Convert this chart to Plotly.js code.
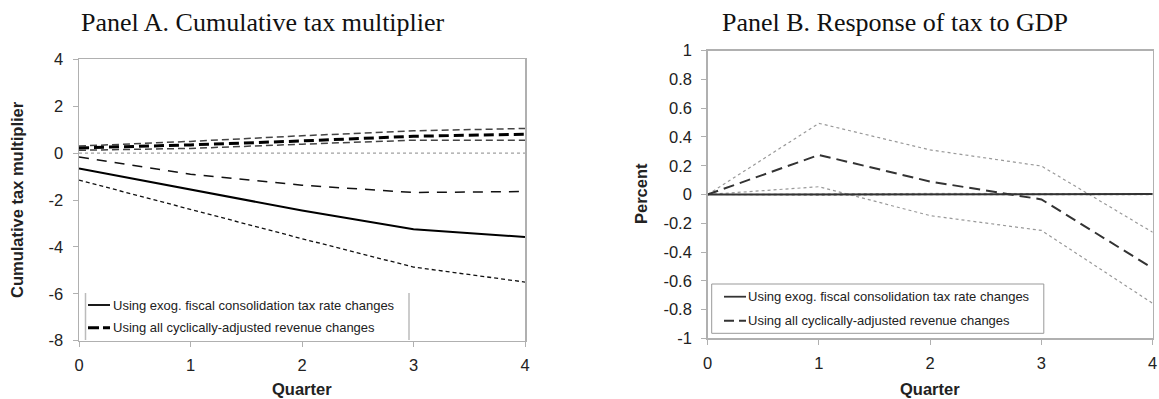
<!DOCTYPE html>
<html>
<head>
<meta charset="utf-8">
<script src="https://cdn.plot.ly/plotly-3.0.1.min.js"></script>
<style>html,body{margin:0;padding:0;background:#fff;}#chart{width:1159px;height:399px;}</style>
</head>
<body>
<div id="chart"></div>
<script>
// ---------- data ----------
var quarters = [0, 1, 2, 3, 4];

// Panel A: cumulative tax multiplier
var aExog      = [-0.66, -1.55, -2.45, -3.25, -3.58];
var aExogUpper = [-0.17, -0.90, -1.37, -1.68, -1.64];
var aExogLower = [-1.15, -2.40, -3.65, -4.86, -5.50];
var aCyc       = [0.22, 0.35, 0.52, 0.72, 0.80];
var aCycUpper  = [0.30, 0.50, 0.74, 0.95, 1.05];
var aCycLower  = [0.12, 0.20, 0.38, 0.55, 0.55];
var aZero      = [0, 0, 0, 0, 0];

// Panel B: response of tax to GDP
var bExog      = [0, 0.0, 0.004, 0.003, 0.003];
var bExogUpper = [0, 0.006, 0.008, 0.007, 0.007];
var bExogLower = [0, -0.006, -0.002, -0.002, -0.002];
var bCyc       = [0, 0.275, 0.09, -0.034, -0.513];
var bCycUpper  = [0, 0.495, 0.31, 0.198, -0.263];
var bCycLower  = [0, 0.054, -0.147, -0.25, -0.757];

// tick labels
var xTickVals = [0, 1, 2, 3, 4];
var xTickText = ["0", "1", "2", "3", "4"];
var aYTickVals = [-8, -6, -4, -2, 0, 2, 4];
var aYTickText = ["-8", "-6", "-4", "-2", "0", "2", "4"];
var bYTickVals = [-1, -0.8, -0.6, -0.4, -0.2, 0, 0.2, 0.4, 0.6, 0.8, 1];
var bYTickText = ["-1", "-0.8", "-0.6", "-0.4", "-0.2", "0", "0.2", "0.4", "0.6", "0.8", "1"];

var nameExog = "Using exog. fiscal consolidation tax rate changes";
var nameCyc  = "Using all cyclically-adjusted revenue changes";

// ---------- styles ----------
var styleAExog = {color: '#000', width: 2};
var styleACyc  = {color: '#000', width: 3, dash: '10px,5px'};
var styleBExog = {color: '#333', width: 2};
var styleBCyc  = {color: '#333', width: 2, dash: '11px,6px'};

// ---------- traces ----------
function tr(x, y, ax, ay, line, name) {
  return {x: x, y: y, xaxis: ax, yaxis: ay, type: 'scatter', mode: 'lines',
          line: line, name: name || '', showlegend: false, hoverinfo: 'skip'};
}
var data = [
  // Panel A
  tr(quarters, aZero, 'x', 'y', {color: '#888', width: 1, dash: 'dot'}),
  tr(quarters, aCycUpper, 'x', 'y', {color: '#444', width: 1.5, dash: '7px,4px'}),
  tr(quarters, aCycLower, 'x', 'y', {color: '#444', width: 1.5, dash: '7px,4px'}),
  tr(quarters, aExogUpper, 'x', 'y', {color: '#111', width: 1.5, dash: '10px,8px'}),
  tr(quarters, aExogLower, 'x', 'y', {color: '#111', width: 1.3, dash: '4px,3px'}),
  tr(quarters, aExog, 'x', 'y', styleAExog, nameExog),
  tr(quarters, aCyc, 'x', 'y', styleACyc, nameCyc),
  // Panel B
  tr(quarters, bExogUpper, 'x2', 'y2', {color: '#999', width: 1, dash: 'dot'}),
  tr(quarters, bExogLower, 'x2', 'y2', {color: '#999', width: 1, dash: 'dot'}),
  tr(quarters, bCycUpper, 'x2', 'y2', {color: '#999', width: 1.2, dash: 'dot'}),
  tr(quarters, bCycLower, 'x2', 'y2', {color: '#999', width: 1.2, dash: 'dot'}),
  tr(quarters, bExog, 'x2', 'y2', styleBExog, nameExog),
  tr(quarters, bCyc, 'x2', 'y2', styleBCyc, nameCyc)
];

// ---------- layout ----------
var tickFont = {family: 'Liberation Sans, Arial, sans-serif', size: 16.5, color: '#222'};
function xax(domain, anchor) {
  return {domain: domain, anchor: anchor, range: [0, 4], tickvals: xTickVals, ticktext: xTickText,
          showline: true, mirror: true, linecolor: '#b0b0b0', linewidth: 1.5,
          ticks: 'outside', ticklen: 5, tickcolor: '#b0b0b0', ticklabelstandoff: 4,
          showgrid: false, zeroline: false, tickfont: tickFont, fixedrange: true};
}
function yax(domain, anchor, range, vals, text) {
  return {domain: domain, anchor: anchor, range: range, tickvals: vals, ticktext: text,
          showline: true, mirror: true, linecolor: '#b0b0b0', linewidth: 1.5,
          ticks: 'outside', ticklen: 5, tickcolor: '#b0b0b0', ticklabelstandoff: 6,
          showgrid: false, zeroline: false, tickfont: tickFont, fixedrange: true};
}
var W = 1159, H = 399;
function px(x) { return x / W; }
function py(y) { return (H - y) / H; }

var titleFont = {family: 'Liberation Serif, Times New Roman, serif', size: 26, color: '#111'};
var axTitleFont = {family: 'Liberation Sans, Arial, sans-serif', size: 16.5, color: '#222', weight: 'bold'};
var legFont = {family: 'Liberation Sans, Arial, sans-serif', size: 13, color: '#222'};

// legend drawn as paper shapes + text
function legLine(x0, x1, y, line) {
  return {type: 'line', xref: 'paper', yref: 'paper', x0: px(x0), x1: px(x1), y0: py(y), y1: py(y),
          line: {color: line.color, width: 1.8, dash: line.dash || 'solid'}};
}
function legText(x, y, t) {
  return {text: t, xref: 'paper', yref: 'paper', x: px(x), y: py(y), xanchor: 'left', yanchor: 'middle',
          showarrow: false, font: legFont};
}

var layout = {
  width: W, height: H,
  margin: {l: 0, r: 0, t: 0, b: 0},
  paper_bgcolor: '#fff', plot_bgcolor: '#fff',
  showlegend: false,
  xaxis: xax([px(79), px(525)], 'y'),
  yaxis: yax([py(340.7), py(59.3)], 'x', [-8, 4], aYTickVals, aYTickText),
  xaxis2: xax([px(707.7), px(1152.7)], 'y2'),
  yaxis2: yax([py(338.3), py(50.7)], 'x2', [-1, 1], bYTickVals, bYTickText),
  shapes: [
    // Panel A legend frame (side lines)
    {type: 'line', xref: 'paper', yref: 'paper', x0: px(85.5), x1: px(85.5), y0: py(293), y1: py(340), line: {color: '#bbb', width: 1.5}},
    {type: 'line', xref: 'paper', yref: 'paper', x0: px(409), x1: px(409), y0: py(293), y1: py(340), line: {color: '#bbb', width: 1.5}},
    legLine(88, 110, 305, styleAExog),
    {type: 'line', xref: 'paper', yref: 'paper', x0: px(88), x1: px(110), y0: py(327.7), y1: py(327.7),
     line: {color: '#000', width: 3, dash: '11px,4px'}},
    // Panel B legend box
    {type: 'rect', xref: 'paper', yref: 'paper', x0: px(711.7), x1: px(1043.8), y0: py(333.3), y1: py(284),
     line: {color: '#999', width: 1}, fillcolor: '#fff'},
    legLine(724, 746, 296.7, styleBExog),
    {type: 'line', xref: 'paper', yref: 'paper', x0: px(724), x1: px(746), y0: py(320.7), y1: py(320.7),
     line: {color: '#333', width: 2, dash: '10px,5px'}}
  ],
  annotations: [
    {text: 'Panel A. Cumulative tax multiplier', xref: 'paper', yref: 'paper', x: px(263), y: py(22),
     xanchor: 'center', yanchor: 'middle', showarrow: false, font: titleFont},
    {text: 'Panel B. Response of tax to GDP', xref: 'paper', yref: 'paper', x: px(895), y: py(22),
     xanchor: 'center', yanchor: 'middle', showarrow: false, font: titleFont},
    {text: 'Quarter', xref: 'paper', yref: 'paper', x: px(302), y: py(389),
     xanchor: 'center', yanchor: 'middle', showarrow: false, font: axTitleFont},
    {text: 'Quarter', xref: 'paper', yref: 'paper', x: px(930), y: py(389),
     xanchor: 'center', yanchor: 'middle', showarrow: false, font: axTitleFont},
    {text: 'Cumulative tax multiplier', xref: 'paper', yref: 'paper', x: px(17), y: py(200),
     xanchor: 'center', yanchor: 'middle', textangle: -90, showarrow: false, font: axTitleFont},
    {text: 'Percent', xref: 'paper', yref: 'paper', x: px(641), y: py(194),
     xanchor: 'center', yanchor: 'middle', textangle: -90, showarrow: false, font: axTitleFont},
    legText(111, 305, nameExog),
    legText(111, 327.7, nameCyc),
    legText(746, 296.7, nameExog),
    legText(746, 320.7, nameCyc)
  ]
};

Plotly.newPlot('chart', data, layout, {displayModeBar: false, staticPlot: true});
</script>
</body>
</html>
